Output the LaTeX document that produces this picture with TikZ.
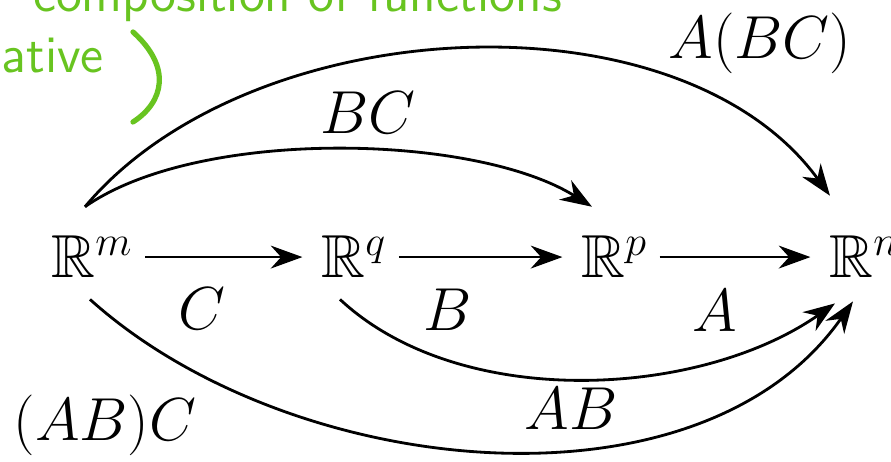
\documentclass[tikz,border=0pt]{standalone}
\usepackage{amssymb}
\usetikzlibrary{arrows.meta}
\definecolor{pen}{RGB}{104,196,32}

\begin{document}
\begin{tikzpicture}[font=\LARGE,>={Stealth[length=9pt,width=6.5pt]},thick,
  space/.style={anchor=base west,inner sep=0pt},
  map/.style={->,shorten <=3pt,shorten >=5pt},
  note/.style={pen,font=\sffamily\fontsize{15}{18}\selectfont}]
  \useasboundingbox (0,0) rectangle (8.91,4.62);
  \clip (0,0) rectangle (8.91,4.62);
  \node[note,anchor=base west] (note1) at (0.20,4.50) {composition of functions};
  \node[note,anchor=base east] (note2) at (1.17,3.89) {ative};
  \draw[pen,line width=1.5pt,line cap=round] (1.33,4.30) .. controls (1.72,3.95) and (1.64,3.60) .. (1.33,3.40);
  \node[space] (Rm) at (0.50,1.84) {$\mathbb{R}^m$};
  \node[space] (Rq) at (3.20,1.84) {$\mathbb{R}^q$};
  \node[space] (Rp) at (5.80,1.84) {$\mathbb{R}^p$};
  \node[space] (Rn) at (8.28,1.84) {$\mathbb{R}^n$};
  \draw[map] (Rm) -- (Rq);
  \draw[map] (Rq) -- (Rp);
  \draw[map] (Rp) -- (Rn);
  \node (C) at (2.02,1.53) {$C$};
  \node (B) at (4.48,1.52) {$B$};
  \node (A) at (7.15,1.51) {$A$};
  \draw[->] ([shift={(0.35,0.28)}]Rm.north west) to[out=35,in=148,looseness=0.7] ([shift={(0.12,0.28)}]Rp.north west);
  \node (BC) at (3.68,3.49) {$BC$};
  \draw[->] ([shift={(0.35,0.28)}]Rm.north west) to[out=50,in=126,looseness=0.88] ([shift={(0.02,0.39)}]Rn.north west);
  \node (ABC) at (7.60,4.19) {$A(BC)$};
  \draw[->] ([shift={(0.20,-0.20)}]Rq.south west) to[out=-43,in=-145,looseness=0.85] ([shift={(0.07,-0.24)}]Rn.south west);
  \node (AB) at (5.71,0.53) {$AB$};
  \draw[->] ([shift={(0.40,-0.20)}]Rm.south west) to[out=-42,in=-125,looseness=0.9] ([shift={(0.25,-0.22)}]Rn.south west);
  \node (ABthenC) at (1.05,0.37) {$(AB)C$};
\end{tikzpicture}
\end{document}
